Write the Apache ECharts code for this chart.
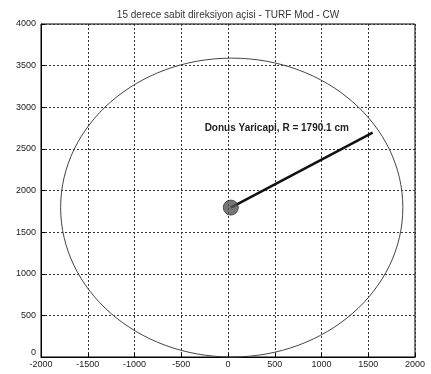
<!DOCTYPE html>
<html>
<head>
<meta charset="utf-8">
<script src="https://cdn.jsdelivr.net/npm/echarts@6/dist/echarts.min.js"></script>
<style>html,body{margin:0;padding:0;background:#fff;}#c{width:431px;height:374px;}</style>
</head>
<body>
<div id="c"></div>
<script>
const titleText = '15 derece sabit direksiyon açisi - TURF Mod - CW';
const xRange = [-2000, 2000];
const yRange = [0, 4000];
const tickStep = 500;
// traced turning path (extents)
const pathCenter = [40, 1795];
const pathRadiusX = [1830];
const pathRadiusY = [1795];
// turning radius segment
const radiusStart = [30, 1795];
const radiusEnd = [1547, 2694];
const radiusLabel = 'Donus Yaricapi, R = 1790.1 cm';
const labelAnchor = [-250, 2750];

const chart = echarts.init(document.getElementById('c'));
const font = 'Liberation Sans, Arial, sans-serif';
chart.setOption({
  animation: false,
  backgroundColor: '#fff',
  title: {
    text: titleText, left: 223, top: 5, textAlign: 'center',
    textStyle: {fontFamily: font, fontSize: 10, fontWeight: 'normal', color: '#333'}
  },
  grid: {left: 41, top: 24, width: 374, height: 333, show: true, borderColor: '#000', borderWidth: 1, backgroundColor: 'transparent'},
  xAxis: {
    type: 'value', min: xRange[0], max: xRange[1], interval: tickStep,
    axisLine: {show: true, onZero: false, lineStyle: {color: '#000', width: 1}},
    axisTick: {show: true, inside: true, length: 4, lineStyle: {color: '#000'}},
    axisLabel: {fontFamily: font, fontSize: 9, color: '#222', margin: 3, formatter: v => String(v)},
    splitLine: {show: true, lineStyle: {color: '#333', type: [2, 2], width: 1}}
  },
  yAxis: {
    type: 'value', min: yRange[0], max: yRange[1], interval: tickStep,
    axisLine: {show: true, onZero: false, lineStyle: {color: '#000', width: 1}},
    axisTick: {show: true, inside: true, length: 4, lineStyle: {color: '#000'}},
    axisLabel: {
      fontFamily: font, fontSize: 9, color: '#222', margin: 5,
      formatter: v => v === 0 ? '{z|0}' : String(v),
      rich: {z: {fontFamily: font, fontSize: 9, color: '#222', padding: [0, 0, 8, 0]}}
    },
    splitLine: {show: true, lineStyle: {color: '#333', type: [2, 2], width: 1}}
  },
  series: [
    {
      type: 'custom', coordinateSystem: 'cartesian2d', silent: true,
      data: [[pathCenter[0], pathCenter[1], pathRadiusX[0], pathRadiusY[0]]],
      encode: {x: 0, y: 1},
      renderItem: function (params, api) {
        const c = api.coord([api.value(0), api.value(1)]);
        const s = api.size([api.value(2), api.value(3)]);
        return {type: 'ellipse', shape: {cx: c[0], cy: c[1], rx: s[0], ry: s[1]},
          style: {fill: 'none', stroke: '#444', lineWidth: 1}};
      },
      z: 3
    },
    {
      type: 'line', data: [radiusStart, radiusEnd], symbol: 'none', silent: true,
      lineStyle: {color: '#111', width: 2.5}, z: 4
    },
    {
      type: 'scatter', data: [radiusStart], symbolSize: 15, silent: true,
      itemStyle: {color: '#555', borderColor: '#333', borderWidth: 1},
      z: 5
    },
    {
      type: 'custom', coordinateSystem: 'cartesian2d', silent: true,
      data: [labelAnchor], encode: {x: 0, y: 1},
      renderItem: function (params, api) {
        const c = api.coord([api.value(0), api.value(1)]);
        return {type: 'text', x: c[0], y: c[1],
          style: {text: radiusLabel, fontFamily: font, fontSize: 10, fontWeight: 'bold', fill: '#222', align: 'left', verticalAlign: 'middle'}};
      },
      z: 6
    }
  ]
});
</script>
</body>
</html>
